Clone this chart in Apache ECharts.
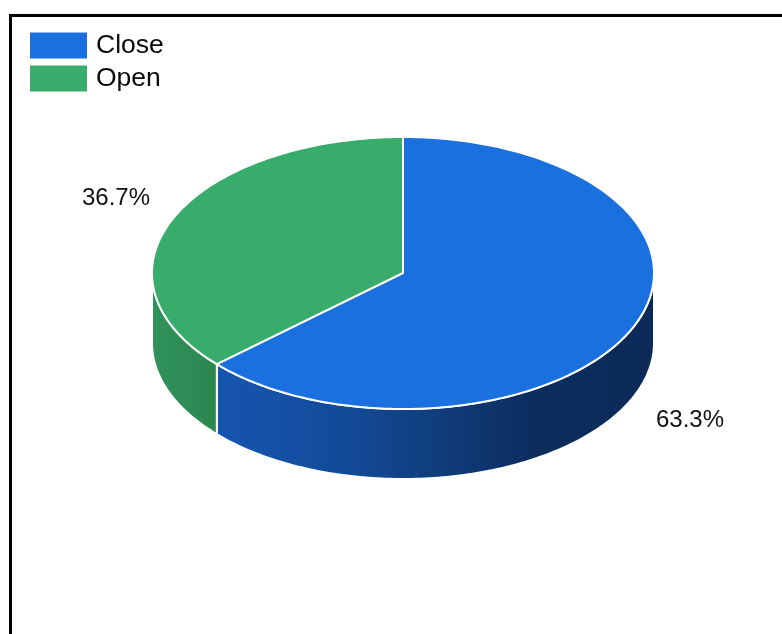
<!DOCTYPE html>
<html>
<head>
<meta charset="utf-8">
<title>Close / Open</title>
<script src="https://cdn.jsdelivr.net/npm/echarts@6/dist/echarts.min.js"></script>
<style>
  html, body { margin: 0; padding: 0; background: #ffffff; }
  #chart { width: 782px; height: 634px; }
</style>
</head>
<body>
<div id="chart"></div>
<script>
// Slice names and their shares (percent)
const categories = ['Close', 'Open'];
const shares = [63.3, 36.7];

// Colours: top face, and side wall gradient stops (left -> right)
const topColors = ['#1a70df', '#38ad6b'];
const sideStops = [
  [[0, '#1656b1'], [0.3, '#134a98'], [0.55, '#0f3a76'], [0.72, '#0c2d5e'], [1, '#0c2a57']],
  [[0, '#30925a'], [1, '#2c8650']]
];

// Elliptical pie geometry
const geo = { cx: 403, cy: 273, rx: 251, ry: 136, depth: 70, lrx: 314, lry: 187 };

const total = shares.reduce((a, b) => a + b, 0);
const starts = [];
shares.reduce((acc, v, i) => { starts[i] = acc; return acc + v; }, 0);

function pt(theta, dy) {
  return [geo.cx + geo.rx * Math.sin(theta), geo.cy - geo.ry * Math.cos(theta) + (dy || 0)];
}

function arcPoints(a, b, dy) {
  const n = Math.max(2, Math.ceil((b - a) / (Math.PI / 180)));
  const out = [];
  for (let k = 0; k <= n; k++) out.push(pt(a + (b - a) * k / n, dy));
  return out;
}

function makeRender(idx) {
  return function (params, api) {
    const value = api.value(0);
    const a = starts[idx] / total * Math.PI * 2;
    const b = a + value / total * Math.PI * 2;
    const children = [];

    // visible front wall: parametric angles between 90 and 270 degrees
    const fa = Math.max(a, Math.PI / 2);
    const fb = Math.min(b, Math.PI * 1.5);
    if (fb > fa) {
      const topArc = arcPoints(fa, fb, 0);
      const botArc = arcPoints(fa, fb, geo.depth).reverse();
      const xs = topArc.map(p => p[0]);
      const x0 = Math.min.apply(null, xs), x1 = Math.max.apply(null, xs);
      children.push({
        type: 'polygon',
        z2: 1,
        shape: { points: topArc.concat(botArc) },
        style: {
          fill: new echarts.graphic.LinearGradient(x0, 0, x1, 0,
            sideStops[idx].map(s => ({ offset: s[0], color: s[1] })), true),
          stroke: '#ffffff',
          lineWidth: 2
        }
      });
    }

    // top face
    children.push({
      type: 'polygon',
      z2: 10,
      shape: { points: [[geo.cx, geo.cy]].concat(arcPoints(a, b, 0)) },
      style: { fill: topColors[idx], stroke: '#ffffff', lineWidth: 2, lineJoin: 'miter' }
    });

    // percentage label outside the slice
    const mid = (a + b) / 2;
    const c = Math.cos(mid);
    const lx = geo.cx + geo.lrx * Math.sin(mid);
    const ly = geo.cy - geo.lry * c + (c < 0 ? geo.depth : 0);
    children.push({
      type: 'text',
      z2: 20,
      x: lx,
      y: ly + 1,
      style: {
        text: (value / total * 100).toFixed(1) + '%',
        fill: '#111111',
        font: '24px "Liberation Sans", Arial, sans-serif',
        align: 'center',
        verticalAlign: 'middle'
      }
    });

    return { type: 'group', children: children };
  };
}

const chart = echarts.init(document.getElementById('chart'), null, { renderer: 'canvas' });

chart.setOption({
  animation: false,
  color: topColors,
  legend: {
    data: categories,
    orient: 'vertical',
    left: 30,
    top: 32,
    padding: 0,
    itemWidth: 57,
    itemHeight: 26,
    itemGap: 6,
    icon: 'rect',
    selectedMode: false,
    textStyle: {
      fontSize: 26.5,
      color: '#0a0a0a',
      fontFamily: '"Liberation Sans", Arial, sans-serif',
      padding: [0, 0, 0, 4]
    }
  },
  graphic: [{
    type: 'rect',
    silent: true,
    shape: { x: 10.5, y: 15.5, width: 820, height: 700 },
    style: { fill: 'none', stroke: '#000000', lineWidth: 3 }
  }],
  series: categories.map((name, i) => ({
    type: 'custom',
    name: name,
    coordinateSystem: 'none',
    silent: true,
    itemStyle: { color: topColors[i] },
    data: [shares[i]],
    renderItem: makeRender(i)
  }))
});
</script>
</body>
</html>
